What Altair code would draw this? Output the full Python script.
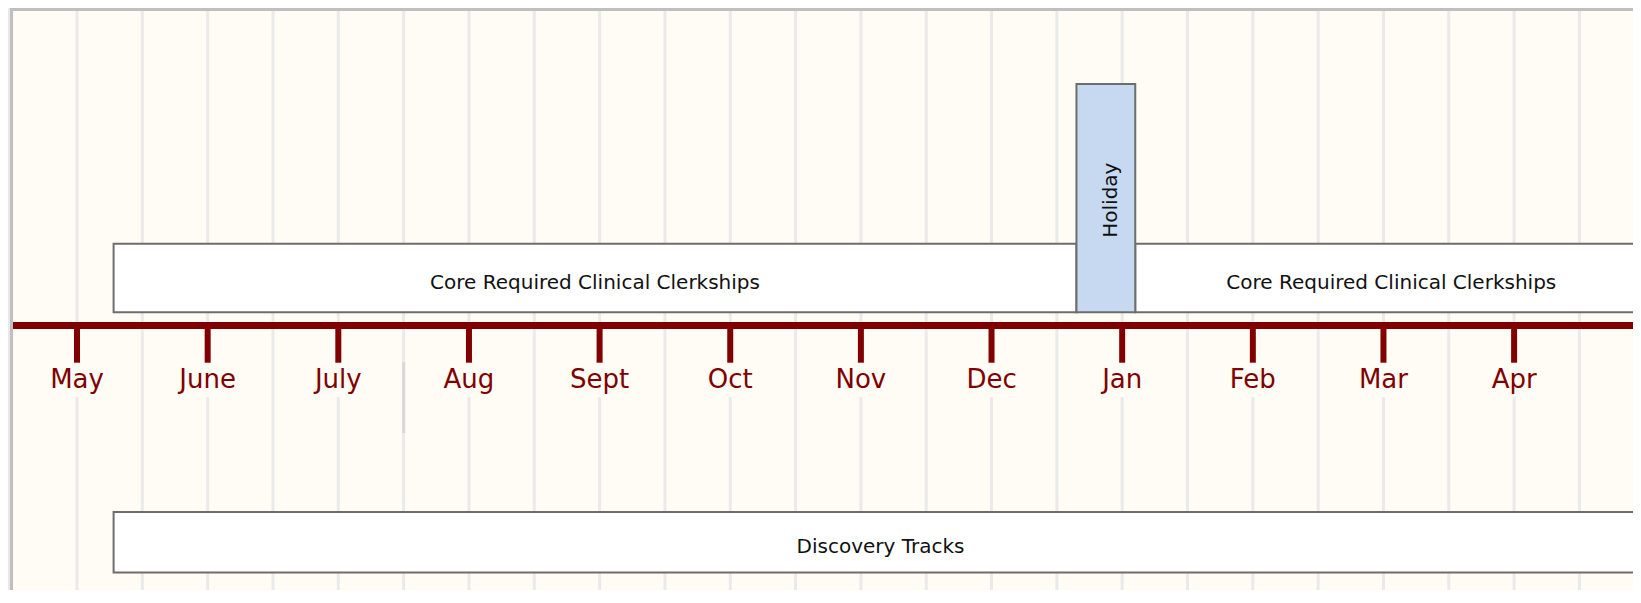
import altair as alt
import pandas as pd

# ---- data ----
months = ["May", "June", "July", "Aug", "Sept", "Oct", "Nov", "Dec", "Jan", "Feb", "Mar", "Apr"]

bar_names = ["Core Required Clinical Clerkships", "Core Required Clinical Clerkships",
             "Discovery Tracks", "Holiday"]
bar_lane = ["core", "core", "discovery", "holiday"]
bar_start = [0.28, 8.10, 0.28, 7.65]   # in months after May 1
bar_end = [7.65, 12.02, 12.02, 8.10]

lane_names = ["core", "holiday", "discovery"]
lane_top = [81.7, 241.5, -186.5]
lane_bottom = [13.2, 13.2, -247.0]
lane_fill = ["#ffffff", "#c6d9f1", "#ffffff"]

# ---- layout ----
W, H = 1623, 582
XDOM = [-0.513, 11.910]
YDOM = [317.5 - H, 317.5]
RED = "#800000"
FONT = "DejaVu Sans"

xs = alt.Scale(domain=XDOM, nice=False, zero=False)
ys = alt.Scale(domain=YDOM, nice=False, zero=False)

month_df = pd.DataFrame({"m": list(range(len(months))), "label": months})

# gridlines every half month
grid_rows = []
for i in range(-1, 2 * len(months)):
    m = i / 2
    if i % 2 == 0 and i >= 0:
        grid_rows.append({"m": m, "y": YDOM[1], "y2": 0})
        grid_rows.append({"m": m, "y": -71.5, "y2": YDOM[0]})
    else:
        grid_rows.append({"m": m, "y": YDOM[1], "y2": YDOM[0]})
grid_df = pd.DataFrame(grid_rows)

lane_df = pd.DataFrame({"lane": lane_names, "top": lane_top, "bottom": lane_bottom})
bars = pd.DataFrame({"name": bar_names, "lane": bar_lane, "start": bar_start, "end": bar_end})
bars = bars.merge(lane_df, on="lane", how="left")
bars["mid"] = (bars["start"] + bars["end"]) / 2
bars["cy"] = (bars["top"] + bars["bottom"]) / 2

grid = alt.Chart(grid_df).mark_rule(color="#eaeaea", strokeWidth=3).encode(
    x=alt.X("m:Q", scale=xs, axis=None),
    y=alt.Y("y:Q", scale=ys, axis=None),
    y2="y2:Q",
)

artifact = alt.Chart(pd.DataFrame({"m": [2.5], "y": [-36.5], "y2": [-107.5]})).mark_rule(
    color="#d8d8d8", strokeWidth=3).encode(
    x=alt.X("m:Q", scale=xs, axis=None),
    y=alt.Y("y:Q", scale=ys, axis=None),
    y2="y2:Q",
)

rects = alt.Chart(bars).mark_rect(stroke="#6d6d6d", strokeWidth=2, clip=True).encode(
    x=alt.X("start:Q", scale=xs, axis=None),
    x2="end:Q",
    y=alt.Y("top:Q", scale=ys, axis=None),
    y2="bottom:Q",
    fill=alt.Fill("lane:N", scale=alt.Scale(domain=lane_names, range=lane_fill), legend=None),
)

bar_text = alt.Chart(bars[bars["lane"] != "holiday"]).mark_text(
    font=FONT, fontSize=20, color="#111111", baseline="alphabetic", align="center", dy=10.8).encode(
    x=alt.X("mid:Q", scale=xs, axis=None),
    y=alt.Y("cy:Q", scale=ys, axis=None),
    text="name:N",
)

hol_text = alt.Chart(bars[bars["lane"] == "holiday"]).mark_text(
    font=FONT, fontSize=20, color="#111111", baseline="alphabetic", align="center",
    angle=270, dy=10.8, dx=-2).encode(
    x=alt.X("mid:Q", scale=xs, axis=None),
    y=alt.Y("cy:Q", scale=ys, axis=None),
    text="name:N",
)

axis_line = alt.Chart(pd.DataFrame({"y": [0]})).mark_rule(color=RED, strokeWidth=7).encode(
    x=alt.value(0), x2=alt.value(W),
    y=alt.Y("y:Q", scale=ys, axis=None),
)

ticks = alt.Chart(month_df).transform_calculate(y0="0", y1="-37.2").mark_rule(
    color=RED, strokeWidth=6).encode(
    x=alt.X("m:Q", scale=xs, axis=None),
    y=alt.Y("y0:Q", scale=ys, axis=None),
    y2="y1:Q",
)

labels = alt.Chart(month_df).transform_calculate(y="-62.5").mark_text(
    font=FONT, fontSize=26, color=RED, baseline="alphabetic", align="center").encode(
    x=alt.X("m:Q", scale=xs, axis=None),
    y=alt.Y("y:Q", scale=ys, axis=None),
    text="label:N",
)

frame_top = alt.Chart(pd.DataFrame({"a": [0]})).mark_rule(color="#bfbfbf", strokeWidth=3).encode(
    x=alt.value(0), x2=alt.value(W), y=alt.value(1.5))
frame_left = alt.Chart(pd.DataFrame({"a": [0]})).mark_rule(color="#bfbfbf", strokeWidth=3).encode(
    x=alt.value(1.5), y=alt.value(0), y2=alt.value(H))

chart = alt.layer(grid, artifact, rects, bar_text, hol_text, axis_line, ticks, labels,
                  frame_top, frame_left).properties(
    width=W, height=H,
    background="#e8e8e8",
    padding={"left": 2, "top": 0, "right": 0, "bottom": 0},
    autosize=alt.AutoSizeParams(type="none"),
).configure_view(fill="#fffcf5", stroke="transparent")

chart.save("out.html", embed_options={"renderer": "svg", "actions": False})
